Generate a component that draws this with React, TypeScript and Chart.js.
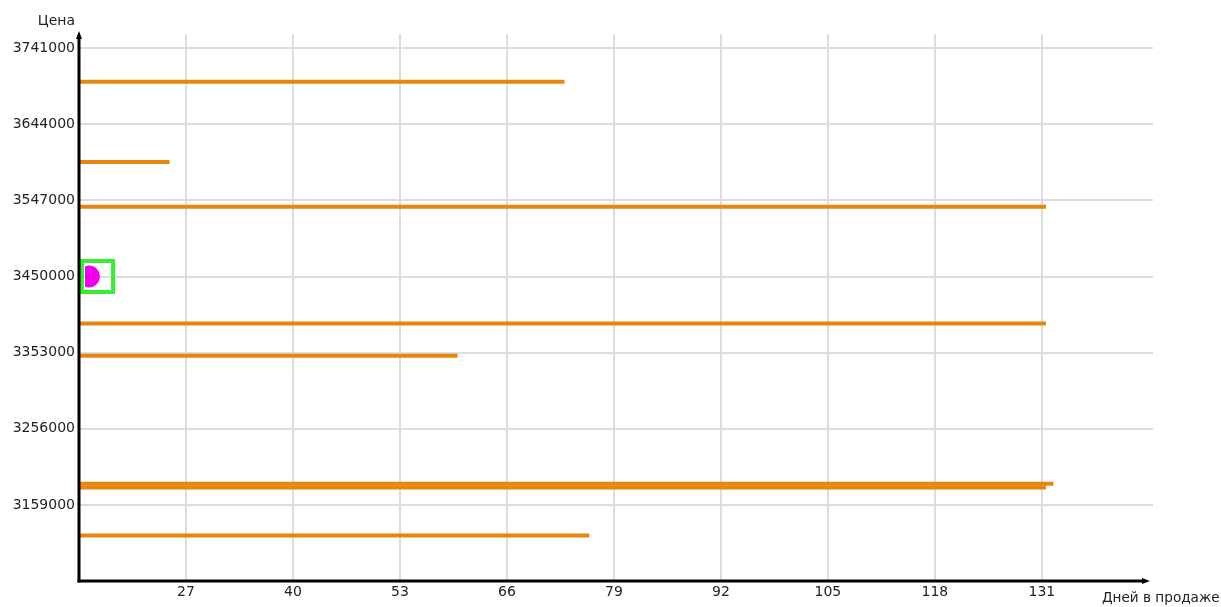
import React, { useEffect, useRef } from "react";
import { Chart, registerables } from "chart.js";

Chart.register(...registerables);

// ---- data ----
const linePrices = [3698000, 3596000, 3539000, 3390000, 3349000, 3186000, 3181000, 3120000];
const lineDays = [73, 25, 131.5, 131.5, 60, 132.4, 131.5, 76];
const lineStartDay = 14;
const currentPrice = 3450000;
const currentDay = 15.2;
const currentBoxDay = 16.25;
const xTickValues = [27, 40, 53, 66, 79, 92, 105, 118, 131];
const yTickValues = [3159000, 3256000, 3353000, 3450000, 3547000, 3644000, 3741000];
const xMin = 14;
const xMax = 144.5;
const yMin = 3062000;
const yMax = 3759000;
const yTitle = "Цена";
const xTitle = "Дней в продаже";

const FONT = "DejaVu Sans";
const TEXT = "#222222";
const ORANGE = "#E5870F";

const axesPlugin = {
  id: "axesArrows",
  afterDraw(chart: any) {
    const { ctx, chartArea } = chart;
    const l = chartArea.left;
    const b = chartArea.bottom;
    ctx.save();
    ctx.strokeStyle = "#000";
    ctx.fillStyle = "#000";
    ctx.lineWidth = 3;
    // y axis
    ctx.beginPath();
    ctx.moveTo(l, b + 1.5);
    ctx.lineTo(l, chartArea.top + 3);
    ctx.stroke();
    ctx.beginPath();
    ctx.moveTo(l, chartArea.top - 3);
    ctx.lineTo(l - 3, chartArea.top + 5);
    ctx.lineTo(l + 3, chartArea.top + 5);
    ctx.closePath();
    ctx.fill();
    // x axis
    const xr = chartArea.right - 3;
    ctx.beginPath();
    ctx.moveTo(l - 1.5, b);
    ctx.lineTo(xr - 5, b);
    ctx.stroke();
    ctx.beginPath();
    ctx.moveTo(xr, b);
    ctx.lineTo(xr - 8, b - 3);
    ctx.lineTo(xr - 8, b + 3);
    ctx.closePath();
    ctx.fill();
    // titles
    ctx.fillStyle = TEXT;
    ctx.textBaseline = "alphabetic";
    ctx.font = `14px "${FONT}"`;
    ctx.textAlign = "right";
    ctx.fillText(yTitle, 75, 25);
    ctx.font = `13.6px "${FONT}"`;
    ctx.textAlign = "left";
    ctx.fillText(xTitle, 1102, 602);
    ctx.restore();
  },
};

export default function App() {
  const canvasRef = useRef<HTMLCanvasElement | null>(null);

  useEffect(() => {
    document.body.style.margin = "0";
    const canvas = canvasRef.current;
    if (!canvas) return;

    const lineSets = linePrices.map((p, i) => ({
      data: [
        { x: lineStartDay, y: p },
        { x: lineDays[i], y: p },
      ],
      showLine: true,
      borderColor: ORANGE,
      backgroundColor: ORANGE,
      borderWidth: 4,
      borderCapStyle: "butt" as const,
      pointRadius: 0,
      pointHoverRadius: 0,
      order: 3,
    }));

    const chart = new Chart(canvas, {
      type: "scatter",
      data: {
        datasets: [
          {
            data: [{ x: currentBoxDay, y: currentPrice }],
            pointStyle: "rect",
            pointRadius: 22,
            pointBorderColor: "#33ee33",
            pointBorderWidth: 4,
            pointBackgroundColor: "rgba(0,0,0,0)",
            clip: false as any,
            order: 1,
          } as any,
          {
            data: [{ x: currentDay, y: currentPrice }],
            pointStyle: "circle",
            pointRadius: 11,
            pointBorderWidth: 0,
            pointBackgroundColor: "#ee00ee",
            pointBorderColor: "#ee00ee",
            clip: { left: -6, right: 0, top: 0, bottom: 0 } as any,
            order: 2,
          } as any,
          ...lineSets,
        ],
      },
      options: {
        animation: false,
        responsive: false,
        devicePixelRatio: 1,
        layout: { padding: { left: 0, top: 34, right: 68, bottom: 0 } },
        plugins: {
          legend: { display: false },
          tooltip: { enabled: false },
          title: { display: false },
        },
        scales: {
          x: {
            type: "linear",
            min: xMin,
            max: xMax,
            afterBuildTicks: (s: any) => {
              s.ticks = xTickValues.map((v) => ({ value: v }));
            },
            afterFit: (s: any) => {
              s.height = 22;
            },
            grid: { color: "#dddddd", lineWidth: 2, drawTicks: false },
            border: { display: false },
            ticks: {
              padding: 3,
              color: TEXT,
              font: { family: FONT, size: 14 },
              callback: (v: any) => String(v),
              maxRotation: 0,
              autoSkip: false,
            },
          },
          y: {
            type: "linear",
            min: yMin,
            max: yMax,
            afterBuildTicks: (s: any) => {
              s.ticks = yTickValues.map((v) => ({ value: v }));
            },
            afterFit: (s: any) => {
              s.width = 79;
            },
            grid: { color: "#dddddd", lineWidth: 2, drawTicks: false },
            border: { display: false },
            ticks: {
              padding: 4,
              color: TEXT,
              font: { family: FONT, size: 14 },
              callback: (v: any) => String(v),
              autoSkip: false,
            },
          },
        },
      },
      plugins: [axesPlugin],
    });

    return () => chart.destroy();
  }, []);

  return (
    <div style={{ position: "fixed", left: 0, top: 0, width: 1221, height: 607 }}>
      <canvas ref={canvasRef} width={1221} height={607} style={{ width: 1221, height: 607, display: "block" }} />
    </div>
  );
}
